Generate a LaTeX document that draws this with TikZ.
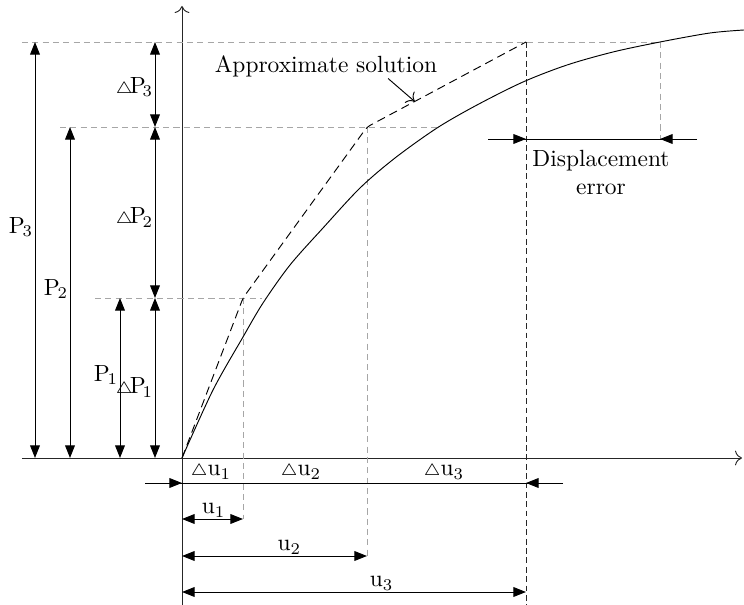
\documentclass[tikz,border=0pt]{standalone}
\usepackage{amsmath}
\usepackage{amssymb}
\usetikzlibrary{arrows.meta, calc}

\newcommand{\dtri}{{\scriptstyle\triangle}}

\begin{document}
\begin{tikzpicture}[
  x=0.015cm, y=0.015cm,
  >={Triangle[length=5.4pt, width=4.2pt]},
  axis/.style={-{To[length=3pt]}, black!85},
  guide/.style={gray!70, dash pattern=on 2.6pt off 1.8pt},
  approx/.style={black, dash pattern=on 3.6pt off 2.2pt, rounded corners=1.5pt},
  lbl/.style={inner sep=0.6pt}
]
\useasboundingbox (-182,-147) rectangle (562,458);

% key points
\coordinate (O)  at (0,0);
\coordinate (A1) at (61,160);
\coordinate (A2) at (185,331);
\coordinate (A3) at (344,416);
\coordinate (E)  at (478,416);

% axes
\coordinate (xL) at (-160,0);  \coordinate (xR) at (560,0);
\coordinate (yB) at (0,-147);  \coordinate (yT) at (0,452);
\draw[axis] (xL) -- (xR);
\draw[axis] (yB) -- (yT);

% dimension rows
\coordinate (duL) at (-37,-25);  \coordinate (duR) at (381,-25);
\coordinate (u1r) at (0,-61);    \coordinate (u2r) at (0,-98);
\coordinate (u3r) at (0,-134);
\coordinate (deL) at (306,319);  \coordinate (deR) at (515,319);

% guide lines (gray dashed)
\coordinate (gL3) at (-160,416);
\coordinate (gL2) at (-122,331); \coordinate (gR2) at (258,331);
\coordinate (gL1) at (-87,160);  \coordinate (gR1) at (80,160);
\draw[guide] (gL3) -- (E);
\draw[guide] (gL2) -- (gR2);
\draw[guide] (gL1) -- (gR1);
\draw[guide] (A1) -- (A1 |- u1r);
\draw[guide] (A2) -- (A2 |- u2r);
\draw[guide] (E)  -- (E |- deL);
\draw[black!85, dash pattern=on 2.5pt off 1.5pt] (A3) -- (A3 |- yB);

% exact solution
\draw[black] plot[smooth, tension=0.5] coordinates {
  (0,0) (31,68) (61,121) (81,155) (108,193) (141,230) (178,270) (213,300)
  (255,330) (295,353) (341,376) (385,393) (431,406) (478,416) (528,425) (562,428)};

% approximate solution
\draw[approx] (O) -- (A1) -- (A2) -- (A3);
\node[lbl] (apx) at (144,392) {Approximate solution};
\draw[-{To[length=3pt]}] ($(apx.south)!0.55!(apx.south east)$) -- ($(A2)!0.3!(A3)$);

% load dimensions
\coordinate (P3x) at (-147,0);
\coordinate (P2x) at (-112,0);
\coordinate (P1x) at (-62,0);
\coordinate (dPx) at (-27,0);
\draw[<->] (P3x) -- node[lbl, pos=.555, left] {$\mathrm{P}_{\mkern-2mu3}$} (P3x |- A3);
\draw[<->] (P2x) -- node[lbl, pos=.51, left] {$\mathrm{P}_{\mkern-2mu2}$} (P2x |- A2);
\draw[<->] (P1x) -- node[lbl, pos=.52, left] {$\mathrm{P}_{\mkern-2mu1}$} (P1x |- A1);
\draw[<->] (dPx) -- node[lbl, pos=.44, left] {$\dtri\mkern-2mu\mathrm{P}_{\mkern-3mu1}$} (dPx |- A1);
\draw[<->] (dPx |- A1) -- node[lbl, pos=.47, left] {$\dtri\mkern-2mu\mathrm{P}_{\mkern-3mu2}$} (dPx |- A2);
\draw[<->] (dPx |- A2) -- node[lbl, pos=.47, left] {$\dtri\mkern-2mu\mathrm{P}_{\mkern-3mu3}$} (dPx |- A3);

% displacement increments
\draw (duL) -- (duR);
\draw[->] (duL) -- (duL -| O);
\draw[->] (duR) -- (duR -| A3);
\node[lbl] (du1) at (29,-14)  {$\dtri\mathrm{u}_1$};
\node[lbl] (du2) at (119,-14) {$\dtri\mathrm{u}_2$};
\node[lbl] (du3) at (262,-14) {$\dtri\mathrm{u}_3$};

% total displacements
\draw[<->] (u1r) -- node[lbl, pos=.52, above] {$\mathrm{u}_1$} (u1r -| A1);
\draw[<->] (u2r) -- node[lbl, pos=.58, above] {$\mathrm{u}_2$} (u2r -| A2);
\draw[<->] (u3r) -- node[lbl, pos=.58, above] {$\mathrm{u}_3$} (u3r -| A3);

% displacement error
\draw (deL) -- (deR);
\draw[->] (deL) -- (deL -| A3);
\draw[->] (deR) -- (deR -| E);
\node[align=center, below, inner sep=4.5pt] (err) at (419,319) {Displacement\\error};
\end{tikzpicture}
\end{document}
